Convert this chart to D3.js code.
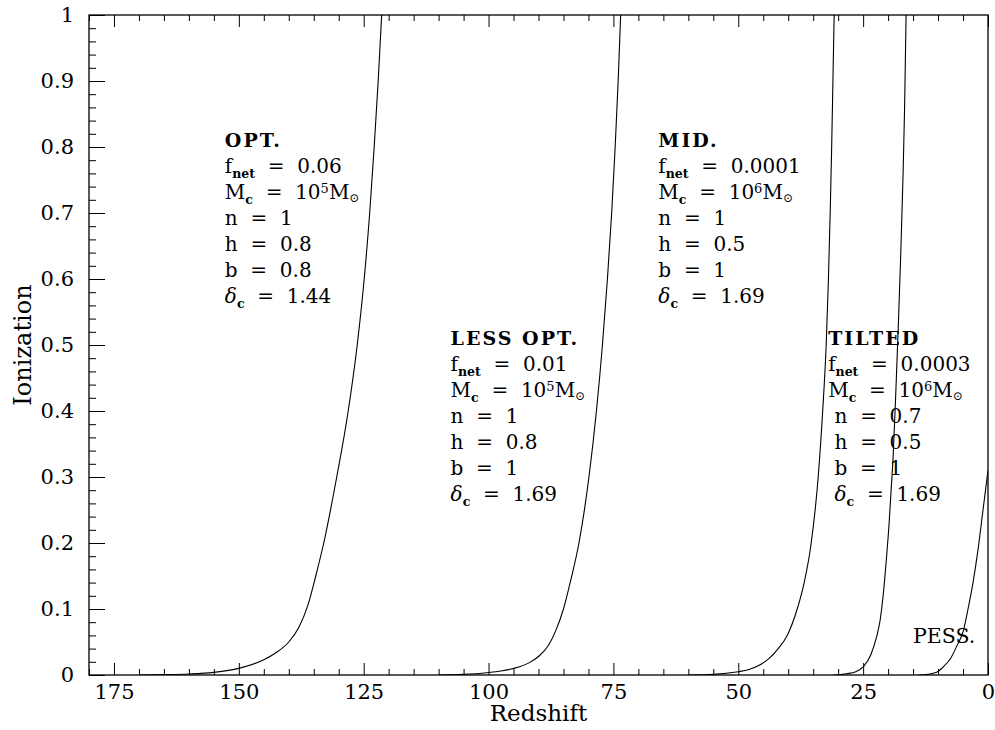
<!DOCTYPE html>
<html>
<head>
<meta charset="utf-8">
<script src="https://cdn.jsdelivr.net/npm/d3@7"></script>
<style>
  body { margin: 0; background: #fff; }
  svg text { font-family: "DejaVu Serif", serif; fill: #000; }
</style>
</head>
<body>
<svg id="chart" width="995" height="730"></svg>
<script>
// ---- axis ticks ----
const redshiftTicks = [175, 150, 125, 100, 75, 50, 25, 0];
const redshiftTickLabels = ["175", "150", "125", "100", "75", "50", "25", "0"];
const ionTicks = [0, 0.1, 0.2, 0.3, 0.4, 0.5, 0.6, 0.7, 0.8, 0.9, 1];
const ionTickLabels = ["0", "0.1", "0.2", "0.3", "0.4", "0.5", "0.6", "0.7", "0.8", "0.9", "1"];

// ---- ionization histories (redshift, ionized fraction) ----
const zOpt   = [170, 165, 160, 155, 150, 145, 142.5, 140, 138, 136.2, 134.6, 133.0, 130.4, 128.1, 126.3, 124.9, 123.8, 122.9, 122.1, 121.4];
const ionOpt = [0, 0.0005, 0.0015, 0.004, 0.010, 0.023, 0.034, 0.05, 0.072, 0.105, 0.15, 0.2, 0.3, 0.4, 0.5, 0.6, 0.7, 0.8, 0.9, 1.0];

const zLess   = [110, 105, 100.3, 97.5, 94, 92, 90, 88, 86.5, 85, 83.5, 81.9, 79.9, 78.4, 77.2, 76.2, 75.35, 74.65, 74.05, 73.55];
const ionLess = [0, 0.001, 0.0035, 0.006, 0.012, 0.018, 0.028, 0.045, 0.068, 0.1, 0.145, 0.2, 0.3, 0.4, 0.5, 0.6, 0.7, 0.8, 0.9, 1.0];

const zMid   = [60, 55, 50, 48, 46, 44, 42, 40.2, 38.2, 36.8, 35.4, 34.0, 33.1, 32.4, 31.95, 31.6, 31.3, 31.05, 30.8];
const ionMid = [0, 0.001, 0.005, 0.008, 0.014, 0.024, 0.04, 0.06, 0.1, 0.14, 0.2, 0.3, 0.4, 0.5, 0.6, 0.7, 0.8, 0.9, 1.0];

const zTilt   = [31, 28.3, 26.5, 24.9, 23.5, 22.3, 21.6, 21.0, 20.3, 19.8, 19.4, 19.0, 18.5, 18.0, 17.5, 17.0, 16.7, 16.4];
const ionTilt = [0, 0.002, 0.005, 0.013, 0.03, 0.058, 0.083, 0.12, 0.18, 0.23, 0.28, 0.33, 0.42, 0.52, 0.63, 0.76, 0.86, 1.0];

const zPess   = [14, 12, 10.3, 9, 7.5, 6.3, 4.9, 4.0, 3.0, 2.0, 1.0, 0];
const ionPess = [0, 0.001, 0.004, 0.012, 0.025, 0.043, 0.068, 0.10, 0.14, 0.19, 0.25, 0.31];

// ---- model parameters written beside the curves ----
const scenarioNames = ["OPT.", "LESS OPT.", "MID.", "TILTED"];
const fNet      = ["0.06", "0.01", "0.0001", "0.0003"];
const mCutExp   = ["5", "5", "6", "6"];
const nIndex    = ["1", "1", "1", "0.7"];
const hParam    = ["0.8", "0.8", "0.5", "0.5"];
const bParam    = ["0.8", "1", "1", "1"];
const deltaCrit = ["1.44", "1.69", "1.69", "1.69"];
const pessName  = "PESS.";

// ---- layout ----
const M = { left: 89, right: 988, top: 15, bottom: 675 };
const svg = d3.select("#chart");

const x = d3.scaleLinear().domain([180, 0]).range([M.left, M.right]);
const y = d3.scaleLinear().domain([0, 1]).range([M.bottom, M.top]);

const redshiftMinor = d3.range(0, 181, 5).filter(v => v % 25 !== 0);
const ionMinor = d3.range(0, 51, 1).filter(i => i % 5 !== 0).map(i => i / 50);

function styleAxis(g, size) {
  g.select(".domain").remove();
  g.attr("font-family", null).attr("font-size", null);
  g.selectAll("line").attr("stroke", "#000").attr("stroke-width", 1);
  g.selectAll("text").attr("font-size", size).attr("fill", "#000");
}

// bottom axis
svg.append("g").attr("transform", `translate(0,${M.bottom})`)
  .call(d3.axisBottom(x).tickValues(redshiftMinor).tickSize(-6).tickFormat(""))
  .call(g => styleAxis(g, 21));
svg.append("g").attr("transform", `translate(0,${M.bottom})`)
  .call(d3.axisBottom(x).tickValues(redshiftTicks).tickSize(-12).tickPadding(9)
    .tickFormat((d, i) => redshiftTickLabels[i]))
  .call(g => styleAxis(g, 21));

// top axis (ticks only)
svg.append("g").attr("transform", `translate(0,${M.top})`)
  .call(d3.axisTop(x).tickValues(redshiftMinor).tickSize(-6).tickFormat(""))
  .call(g => styleAxis(g, 21));
svg.append("g").attr("transform", `translate(0,${M.top})`)
  .call(d3.axisTop(x).tickValues(redshiftTicks).tickSize(-12).tickFormat(""))
  .call(g => styleAxis(g, 21));

// left axis
svg.append("g").attr("transform", `translate(${M.left},0)`)
  .call(d3.axisLeft(y).tickValues(ionMinor).tickSize(-7).tickFormat(""))
  .call(g => styleAxis(g, 21));
svg.append("g").attr("transform", `translate(${M.left},0)`)
  .call(d3.axisLeft(y).tickValues(ionTicks).tickSize(-16).tickPadding(15)
    .tickFormat((d, i) => ionTickLabels[i]))
  .call(g => styleAxis(g, 21));

// frame
svg.append("rect")
  .attr("x", M.left).attr("y", M.top)
  .attr("width", M.right - M.left).attr("height", M.bottom - M.top)
  .attr("fill", "none").attr("stroke", "#000").attr("stroke-width", 1.3);

// axis titles
svg.append("text")
  .attr("x", (M.left + M.right) / 2).attr("y", 721)
  .attr("text-anchor", "middle").attr("font-size", 23)
  .text("Redshift");
svg.append("text")
  .attr("transform", `translate(31,${(M.top + M.bottom) / 2}) rotate(-90)`)
  .attr("text-anchor", "middle").attr("font-size", 24)
  .text("Ionization");

// curves
svg.append("clipPath").attr("id", "plotClip")
  .append("rect").attr("x", M.left).attr("y", M.top)
  .attr("width", M.right - M.left).attr("height", M.bottom - M.top);

const line = d3.line()
  .x(d => x(d[0])).y(d => y(d[1]))
  .curve(d3.curveMonotoneX);

const curves = [
  d3.zip(zOpt, ionOpt),
  d3.zip(zLess, ionLess),
  d3.zip(zMid, ionMid),
  d3.zip(zTilt, ionTilt),
  d3.zip(zPess, ionPess)
];

svg.append("g").attr("clip-path", "url(#plotClip)")
  .selectAll("path").data(curves).join("path")
  .attr("d", line)
  .attr("fill", "none").attr("stroke", "#000").attr("stroke-width", 1.1);

// parameter blocks
const blockAnchor = [
  { z: 152.8, ion: 0.8, indent: "" },
  { z: 107.6, ion: 0.5, indent: "" },
  { z: 66.0, ion: 0.8, indent: "" },
  { z: 32.0, ion: 0.5, indent: " " }
];
const lineStep = 26;

function writeLine(g, parts, px, py) {
  const t = g.append("text")
    .attr("x", px).attr("y", py)
    .attr("font-size", 20)
    .style("white-space", "pre");
  let shift = 0;
  parts.forEach(p => {
    const s = p.shift || 0;
    const ts = t.append("tspan").attr("dy", s - shift).text(p.t);
    shift = s;
    if (p.size) ts.attr("font-size", p.size);
    if (p.bold) ts.attr("font-weight", "bold");
    if (p.italic) ts.attr("font-style", "italic");
  });
  return t;
}

const notes = svg.append("g");
scenarioNames.forEach((name, i) => {
  const a = blockAnchor[i];
  const px = x(a.z), py = y(a.ion);
  notes.append("text")
    .attr("x", px).attr("y", py)
    .attr("font-size", 19).attr("font-weight", "bold")
    .attr("letter-spacing", 2)
    .text(name);
  const sub = t => ({ t, shift: 5, size: 12.5, bold: true });
  const rows = [
    [{ t: "f" }, sub("net"), { t: "  =  " + fNet[i] }],
    [{ t: "M" }, sub("c"), { t: "  =  10" }, { t: mCutExp[i], shift: -6, size: 13 },
     { t: "M" }, { t: "\u2299", shift: 3, size: 12 }],
    [{ t: a.indent + "n  =  " + nIndex[i] }],
    [{ t: a.indent + "h  =  " + hParam[i] }],
    [{ t: a.indent + "b  =  " + bParam[i] }],
    [{ t: a.indent }, { t: "\u03b4", italic: true }, sub("c"), { t: "  =  " + deltaCrit[i] }]
  ];
  rows.forEach((r, k) => writeLine(notes, r, px, py + lineStep * (k + 1)));
});

notes.append("text")
  .attr("x", x(15)).attr("y", y(0.048))
  .attr("font-size", 20.5)
  .text(pessName);
</script>
</body>
</html>
